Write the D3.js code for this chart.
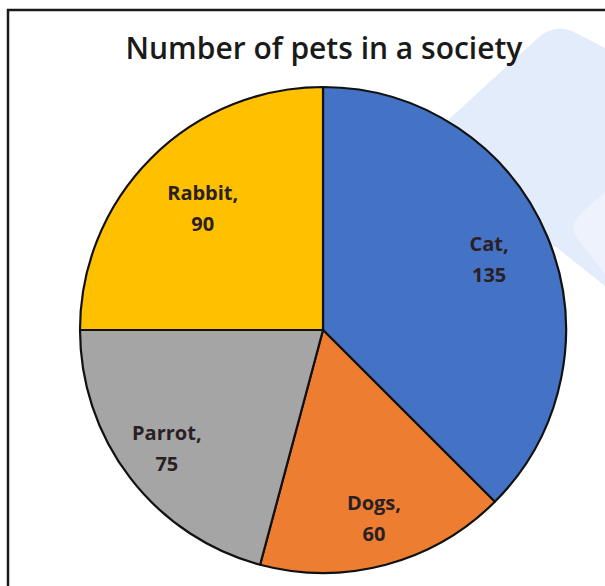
<!DOCTYPE html>
<html>
<head>
<meta charset="utf-8">
<script src="https://cdn.jsdelivr.net/npm/d3@7"></script>
<style>
  html, body { margin: 0; padding: 0; background: #fff; }
  svg { display: block; }
</style>
</head>
<body>
<div class="container"></div>
<script>
// data
var pets = ["Cat", "Dogs", "Parrot", "Rabbit"];
var counts = [135, 60, 75, 90];
var petColors = ["#4472c4", "#ed7d31", "#a5a5a5", "#ffc000"];
var chartTitle = "Number of pets in a society";

var w = 605, h = 586;
var cx = 323, cy = 330, radius = 243;
// label distance from centre, as fraction of radius (excel "best fit" look)
var labelPos = [0.74, 0.81, 0.81, 0.70];

var data = pets.map(function(p, i) { return {name: p, value: counts[i], color: petColors[i]}; });

var svg = d3.select(".container")
  .append("svg")
  .attr("width", w)
  .attr("height", h);

/* ===== watermark shapes in the background ===== */
svg.append("path")
  .attr("d", "M605,48 L578,34 Q556,22 538,38 L380,182 L556,247 L605,286 Z")
  .attr("fill", "#e3ecfb");

svg.append("path")
  .attr("d", "M605,192 L582,212 Q567,226 578,240 L605,274 Z")
  .attr("fill", "#edf2fc");

/* ===== frame ===== */
svg.append("path")
  .attr("d", "M8," + h + " L8,10 L" + w + ",10")
  .attr("fill", "none")
  .attr("stroke", "#1a1a1a")
  .attr("stroke-width", 2.5);

/* ===== title ===== */
svg.append("text")
  .attr("x", cx + 1)
  .attr("y", 59)
  .attr("text-anchor", "middle")
  .style("font-family", "'Open Sans', 'Noto Sans', sans-serif")
  .style("font-size", "30px")
  .style("font-weight", "600")
  .attr("fill", "#1a1a1a")
  .text(chartTitle);

/* ===== pie ===== */
var pie = d3.pie()
  .sort(null)
  .value(function(d) { return d.value; });

var arc = d3.arc()
  .innerRadius(0)
  .outerRadius(radius);

var arcs = pie(data);

var g = svg.append("g")
  .attr("transform", "translate(" + cx + "," + cy + ")");

g.selectAll("path.slice")
  .data(arcs)
  .enter()
  .append("path")
  .attr("class", "slice")
  .attr("d", arc)
  .attr("fill", function(d) { return d.data.color; })
  .attr("stroke", "#111")
  .attr("stroke-width", 2.2)
  .attr("stroke-linejoin", "round");

/* ===== labels ===== */
var labels = g.selectAll("text.lbl")
  .data(arcs)
  .enter()
  .append("text")
  .attr("class", "lbl")
  .attr("transform", function(d, i) {
    var r = radius * labelPos[i];
    var a = (d.startAngle + d.endAngle) / 2;
    return "translate(" + (r * Math.sin(a)) + "," + (-r * Math.cos(a)) + ")";
  })
  .attr("text-anchor", "middle")
  .style("font-family", "'Open Sans', 'Noto Sans', sans-serif")
  .style("font-size", "20px")
  .style("font-weight", "bold")
  .attr("fill", "#2a1f24");

labels.append("tspan")
  .attr("x", 0)
  .attr("dy", -10)
  .text(function(d) { return d.data.name + ","; });

labels.append("tspan")
  .attr("x", 0)
  .attr("dy", 31)
  .text(function(d) { return d.data.value; });
</script>
</body>
</html>
